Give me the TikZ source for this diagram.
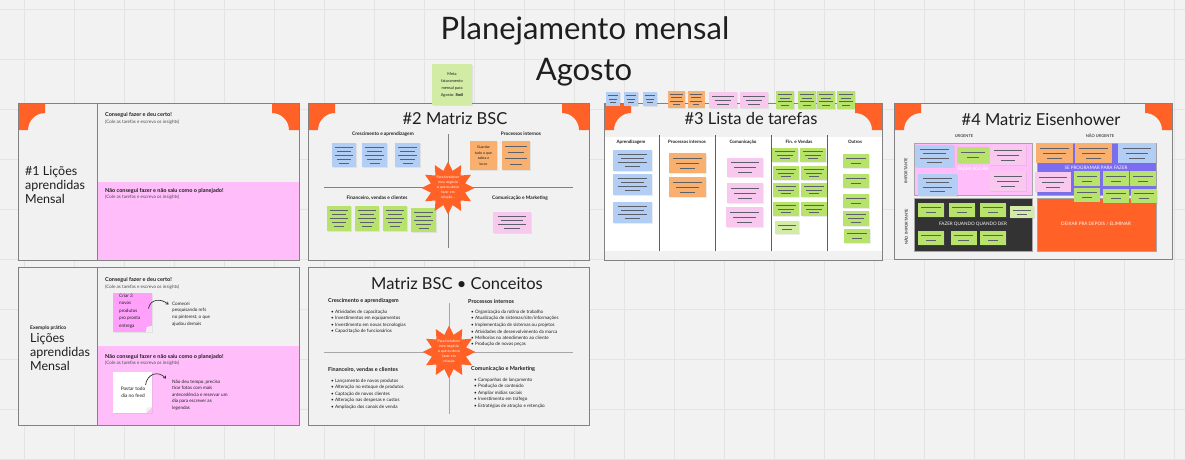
\documentclass[tikz,border=0pt]{standalone}
\usepackage{fontspec}
\setmainfont{Lato}
\usetikzlibrary{shapes.geometric,arrows.meta,shadows,calc}
\definecolor{bgc}{HTML}{F2F2F2}
\definecolor{gridc}{HTML}{E4E4E4}
\definecolor{framec}{HTML}{F1F1F1}
\definecolor{frameb}{HTML}{828282}
\definecolor{orng}{HTML}{FF6126}
\definecolor{pnk}{HTML}{FFBEFA}
\definecolor{sblue}{HTML}{B3CEF5}
\definecolor{sorange}{HTML}{F9AF6D}
\definecolor{spink}{HTML}{F9C8EE}
\definecolor{sgreen}{HTML}{B7E26C}
\definecolor{slgreen}{HTML}{D2ECA6}
\definecolor{purp}{HTML}{7B6CF0}
\definecolor{darkq}{HTML}{333333}
\definecolor{txt}{HTML}{1E1E1E}
\definecolor{lnc}{HTML}{5B606B}
\newcommand{\fs}[1]{\fontsize{#1}{#1}\selectfont}
\newcommand{\stk}[7]{%
  \node[stkbox, fill=#6, minimum width=#4pt, minimum height=#5pt] (#1) at (#2,#3) {};%
  \foreach \i in {1,...,#7}{%
    \pgfmathsetmacro{\ly}{#3-#5/2+#5*\i/(#7+1)}%
    \pgfmathsetmacro{\lw}{((\i==#7) ? 0.2 : ((mod(\i,2)==0) ? 0.3 : 0.38))*#4}%
    \draw[stkline] (#2-\lw,\ly) -- (#2+\lw,\ly);%
  }%
}
\newcommand{\corners}[3]{%
  \fill[orng] (#1,#3) -- (#1+27,#3) -- (#1+27,#3+10) arc[start angle=270, end angle=180, radius=17] -- (#1,#3+27) -- cycle;%
  \fill[orng] (#2,#3) -- (#2-27,#3) -- (#2-27,#3+10) arc[start angle=270, end angle=360, radius=17] -- (#2,#3+27) -- cycle;%
}
\tikzset{
  stkbox/.style={draw=none, inner sep=0, drop shadow={opacity=0.15, shadow xshift=0.5pt, shadow yshift=-0.6pt}},
  stkline/.style={draw=lnc, line width=0.75pt},
  frm/.style={draw=frameb, line width=0.8pt, fill=framec, inner sep=0, anchor=north west},
  frmline/.style={draw=frameb, line width=0.8pt},
  lbl/.style={inner sep=0, text=txt},
  head/.style={lbl, anchor=west, font=\bfseries\fs{5.5}},
  sub/.style={lbl, anchor=west, font=\fs{4.6}, text=txt!80},
  itm/.style={lbl, anchor=west, font=\fs{4.6}},
  ftitle/.style={lbl, font=\fs{16.5}},
  colh/.style={lbl, font=\bfseries\fs{4.5}},
  qtxt/.style={inner sep=0, text=white, font=\fs{4.6}},
  burst/.style={star, star points=12, star point ratio=1.5, minimum size=53pt, fill=orng, inner sep=0},
  bursttxt/.style={inner sep=0, text=white, align=center, font=\fontsize{3.5}{5}\selectfont},
  curvearrow/.style={draw=txt, line width=0.6pt, -{Straight Barb[length=2pt,width=3pt]}}
}
\begin{document}
\begin{tikzpicture}[x=1pt,y=-1pt]
\useasboundingbox (0,0) rectangle (1185,460);
\fill[bgc] (0,0) rectangle (1185,460);
\foreach \x in {24,74,...,1174} \draw[gridc, line width=0.9pt] (\x,0) -- (\x,460);
\foreach \y in {9,59,...,459} \draw[gridc, line width=0.9pt] (0,\y) -- (1185,\y);

% ---------- title ----------
\node[lbl, anchor=base, font=\fs{31}] (t1) at (585,40) {Planejamento mensal};
\node[lbl, anchor=base, font=\fs{31}] (t2) at (584,80) {Agosto};

% ---------- frame 1 ----------
\node[frm, minimum width=281pt, minimum height=157pt] (f1) at (18,103) {};
\fill[pnk] (97,182) rectangle (299,260);
\draw[frmline] (97,103) -- (97,260);
\corners{18}{299}{103}
\draw[frmline] (18,103) rectangle (299,260);
\node[lbl, anchor=west, align=left, font=\fontsize{12.5}{14}\selectfont] (f1t) at (25,185) {\#1 Lições\\aprendidas\\Mensal};
\node[head] (f1h1) at (105,115) {Consegui fazer e deu certo!};
\node[sub] (f1s1) at (105,122) {(Cole as tarefas e escreva os insights)};
\node[head] (f1h2) at (105,191) {Não consegui fazer e não saiu como o planejado!};
\node[sub] (f1s2) at (105,197.5) {(Cole as tarefas e escreva os insights)};

% ---------- frame 2 ----------
\node[frm, minimum width=281pt, minimum height=157pt] (f2) at (308,103) {};
\corners{308}{589}{103}
\draw[frmline] (308,103) rectangle (589,260);
\node[ftitle] (f2t) at (455,119) {\#2 Matriz BSC};
\draw[frmline] (448,134) -- (448,248);
\draw[frmline] (324,187) -- (573,187);
\node[colh, font=\bfseries\fs{4.8}] (q1) at (383,134) {Crescimento e aprendizagem};
\node[colh, font=\bfseries\fs{4.8}] (q2) at (521,134) {Processos internos};
\node[colh, font=\bfseries\fs{4.8}] (q3) at (377,198) {Financeiro, vendas e clientes};
\node[colh, font=\bfseries\fs{4.8}] (q4) at (520,198) {Comunicação e Marketing};
\stk{b21}{344}{155}{24}{24}{sblue}{5}
\stk{b22}{374.5}{155}{25}{24}{sblue}{5}
\stk{b23}{407.5}{155}{25}{24}{sblue}{5}
\node[stkbox, fill=sorange, minimum width=27pt, minimum height=29pt, align=center, font=\fontsize{3.6}{5.6}\selectfont, text=txt] (o21) at (483.5,155.5) {Guardar\\tudo o que\\sobra e\\lucro};
\stk{o22}{516}{155.5}{28}{29}{sorange}{4}
\stk{g21}{339}{218.5}{24}{25}{sgreen}{5}
\stk{g22}{367}{218.5}{24}{25}{sgreen}{5}
\stk{g23}{395}{218.5}{24}{25}{sgreen}{5}
\stk{g24}{423.5}{220}{25}{24}{sgreen}{5}
\stk{p21}{512}{222.5}{38}{21}{spink}{4}
\node[burst] (st2) at (448,188) {};
\node[bursttxt] (st2t) at (448,188) {Para fortalecer\\meu negócio\\o que eu devo\\fazer em\\relação...};
\node[stkbox, fill=slgreen, minimum width=40pt, minimum height=41pt, align=center, font=\fontsize{4}{7}\selectfont, text=txt] (meta) at (452,84.5) {Meta\\faturamento\\mensal para\\Agosto: \textbf{8mil}};

% ---------- frame 3 ----------
\node[frm, minimum width=278pt, minimum height=157pt] (f3) at (604,103) {};
\fill[white] (604,137) rectangle (882,251);
\corners{604}{882}{103}
\foreach \x in {659,715,771,827} \draw[draw=lnc, line width=1pt] (\x,135) -- (\x,251);
\draw[frmline] (604,103) rectangle (882,260);
\node[ftitle] (f3t) at (751,118) {\#3 Lista de tarefas};
\node[colh] (c1) at (631,142) {Aprendizagem};
\node[colh] (c2) at (687,142) {Processos internos};
\node[colh] (c3) at (743,142) {Comunicação};
\node[colh] (c4) at (799,142) {Fin. e Vendas};
\node[colh] (c5) at (855,142) {Outros};
\stk{u1}{613}{99}{14}{14}{sblue}{3}
\stk{u2}{631}{99}{14}{14}{sblue}{3}
\stk{u3}{650}{99}{14}{14}{sblue}{3}
\stk{u4}{676.5}{99.5}{17}{17}{sorange}{4}
\stk{u5}{696}{99.5}{17}{17}{sorange}{4}
\stk{u6}{723}{100}{28}{16}{spink}{3}
\stk{u7}{754}{100}{28}{16}{spink}{3}
\stk{u8}{785}{100}{18}{18}{sgreen}{4}
\stk{u9}{807}{100}{18}{18}{sgreen}{4}
\stk{u10}{826}{100}{18}{18}{sgreen}{4}
\stk{u11}{846}{100}{18}{18}{sgreen}{4}
\stk{l1}{632.5}{160.5}{39}{21}{sblue}{4}
\stk{l2}{632.5}{184.5}{39}{21}{sblue}{4}
\stk{l3}{632.5}{212.5}{39}{21}{sblue}{4}
\stk{l4}{687.5}{163}{37}{20}{sorange}{3}
\stk{l5}{687.5}{187}{37}{20}{sorange}{3}
\stk{l6}{745}{167.5}{36}{19}{spink}{3}
\stk{l7}{745}{193}{36}{20}{spink}{3}
\stk{l8}{744.5}{217}{37}{20}{spink}{3}
\stk{l9}{785}{155}{26}{14}{sgreen}{3}
\stk{l10}{813}{155}{26}{14}{sgreen}{3}
\stk{l11}{786}{173}{26}{14}{sgreen}{3}
\stk{l12}{814}{173}{26}{14}{sgreen}{3}
\stk{l13}{786}{190}{26}{14}{sgreen}{3}
\stk{l14}{814}{190}{26}{14}{sgreen}{3}
\stk{l15}{786}{209}{26}{14}{sgreen}{3}
\stk{l16}{814}{209}{26}{14}{sgreen}{3}
\stk{l17}{787}{227.5}{24}{13}{slgreen}{2}
\stk{l18}{856}{161}{26}{14}{sgreen}{2}
\stk{l19}{856}{181}{26}{14}{sgreen}{2}
\stk{l20}{856}{201}{26}{14}{sgreen}{2}
\stk{l21}{856}{218.5}{26}{15}{sgreen}{3}
\stk{l22}{857}{236}{26}{14}{sgreen}{2}

% ---------- frame 4 ----------
\node[frm, minimum width=278pt, minimum height=156pt] (f4) at (894,103) {};
\corners{894}{1172}{103}
\draw[frmline] (894,103) rectangle (1172,259);
\node[ftitle] (f4t) at (1041,119) {\#4 Matriz Eisenhower};
\node[colh, font=\bfseries\fs{4}, text=txt!80] (e1) at (964,136) {URGENTE};
\node[colh, font=\bfseries\fs{4}, text=txt!80] (e2) at (1100,136) {NÃO URGENTE};
\node[colh, font=\bfseries\fs{4}, text=txt!80, rotate=90] (e3) at (906,171) {IMPORTANTE};
\node[colh, font=\bfseries\fs{4}, text=txt!80, rotate=90] (e4) at (906,227) {NÃO IMPORTANTE};
\node[draw=gray!70, line width=0.5pt, fill=pnk, minimum width=118pt, minimum height=52pt, inner sep=0, anchor=north west] (qa) at (914,143) {};
\node[draw=gray!70, line width=0.5pt, fill=purp, minimum width=119pt, minimum height=52pt, inner sep=0, anchor=north west] (qb) at (1037,143) {};
\node[draw=gray!70, line width=0.5pt, fill=darkq, minimum width=118pt, minimum height=53pt, inner sep=0, anchor=north west] (qc) at (914,198) {};
\node[draw=gray!70, line width=0.5pt, fill=orng, minimum width=119pt, minimum height=53pt, inner sep=0, anchor=north west] (qd) at (1037,198) {};
\node[qtxt] (qat) at (973,169) {FAZER AGORA};
\node[qtxt] (qbt) at (1096,168) {SE PROGRAMAR PARA FAZER};
\node[qtxt] (qct) at (973,224) {FAZER QUANDO QUANDO DER};
\node[qtxt] (qdt) at (1096,224) {DEIXAR PRA DEPOIS / ELIMINAR};
\stk{m1}{934.5}{156}{39}{22}{sblue}{4}
\stk{m2}{973}{155}{32}{16}{sgreen}{2}
\stk{m3}{1008}{155}{36}{20}{spink}{3}
\stk{m4}{937.5}{185}{39}{22}{sblue}{4}
\stk{m5}{1008}{181}{36}{20}{spink}{3}
\stk{m6}{1054.5}{153}{37}{20}{sorange}{3}
\stk{m7}{1093.5}{153}{37}{20}{sorange}{3}
\stk{m8}{1137}{153}{38}{20}{sblue}{3}
\stk{m9}{1053}{182}{36}{20}{spink}{3}
\stk{m10}{1087}{178.5}{26}{15}{sgreen}{2}
\stk{m11}{1116}{178.5}{26}{15}{sgreen}{2}
\stk{m12}{1143}{178.5}{26}{15}{sgreen}{2}
\stk{m13}{1087}{195}{26}{14}{sgreen}{2}
\stk{m14}{1116}{196}{26}{14}{sgreen}{2}
\stk{m15}{1144}{196}{26}{14}{sgreen}{2}
\stk{m16}{931}{210}{26}{14}{sgreen}{2}
\stk{m17}{962}{210}{26}{14}{sgreen}{2}
\stk{m18}{993}{210}{26}{14}{sgreen}{2}
\stk{m19}{1022}{212}{24}{12}{slgreen}{2}
\stk{m20}{931}{238}{26}{14}{sgreen}{2}
\stk{m21}{963.5}{238}{26}{14}{sgreen}{2}
\stk{m22}{993}{238}{26}{14}{sgreen}{2}

% ---------- frame 5 ----------
\node[frm, minimum width=281pt, minimum height=158pt] (f5) at (18,267) {};
\fill[pnk] (97,346) rectangle (299,425);
\draw[frmline] (97,267) -- (97,425);
\draw[frmline] (18,267) rectangle (299,425);
\node[lbl, anchor=west, font=\bfseries\fs{5}] (f5e) at (30,328) {Exemplo prático};
\node[lbl, anchor=west, align=left, font=\fontsize{12.5}{13.6}\selectfont] (f5t) at (30,352) {Lições\\aprendidas\\Mensal};
\node[head] (f5h1) at (105,280) {Consegui fazer e deu certo!};
\node[sub] (f5s1) at (105,287) {(Cole as tarefas e escreva os insights)};
\node[head] (f5h2) at (105,357) {Não consegui fazer e não saiu como o planejado!};
\node[sub] (f5s2) at (105,363.5) {(Cole as tarefas e escreva os insights)};
\node[stkbox, fill=pnk!85!magenta, minimum width=39pt, minimum height=39pt] (n1) at (132.5,312.5) {};
\fill[framec] (146,332.1) -- (152.1,332.1) -- (152.1,326) -- cycle;
\fill[white!85!pnk] (146,332) -- (152,326) -- (146.8,326.8) -- cycle;
\node[lbl, anchor=west, align=left, font=\fontsize{4.6}{7.5}\selectfont] (n1t) at (119,311) {Criar 3\\novos\\produtos\\pro pronta\\entrega};
\node[lbl, anchor=west, align=left, font=\fontsize{4.6}{6.7}\selectfont] (n1r) at (172,314) {Comecei\\pesquisando refs\\no pinterest, o que\\ajudou demais};
\coordinate (a1s) at (148.5,308.5);
\coordinate (a1e) at (168.5,304.5);
\draw[curvearrow] (a1s) .. controls (150,299) and (161,298) .. (a1e);
\node[stkbox, fill=white, minimum width=39pt, minimum height=41pt] (n2) at (132.5,392.5) {};
\fill[pnk] (146,413.1) -- (152.1,413.1) -- (152.1,407) -- cycle;
\fill[gray!12] (146,413) -- (152,407) -- (146.8,407.8) -- cycle;
\node[lbl, align=center, font=\fontsize{4.8}{6.5}\selectfont] (n2t) at (133,392) {Postar todo\\dia no feed};
\node[lbl, anchor=west, align=left, font=\fontsize{4.6}{6.6}\selectfont] (n2r) at (172,395) {Não deu tempo, preciso\\tirar fotos com mais\\antecedência e reservar um\\dia para escrever as\\legendas};
\coordinate (a2s) at (145.5,385);
\coordinate (a2e) at (166,378.5);
\draw[curvearrow] (a2s) .. controls (147,374) and (158,370) .. (a2e);

% ---------- frame 6 ----------
\node[frm, minimum width=281pt, minimum height=158pt] (f6) at (308,267) {};
\node[ftitle] (f6t) at (457,284) {Matriz BSC • Conceitos};
\draw[draw=frameb!70, line width=0.7pt] (449,303) -- (449,414);
\draw[draw=frameb!70, line width=0.7pt] (324,352) -- (573,352);
\node[head] (k1) at (328,301) {Crescimento e aprendizagem};
\node[itm] (k1a) at (331,312) {•\ Atividades de capacitação};
\node[itm] (k1b) at (331,318.5) {•\ Investimentos em equipamentos};
\node[itm] (k1c) at (331,325) {•\ Investimento em novas tecnologias};
\node[itm] (k1d) at (331,331.5) {•\ Capacitação de funcionários};
\node[head] (k2) at (468,301) {Processos internos};
\node[itm] (k2a) at (471,312) {•\ Organização da rotina de trabalho};
\node[itm] (k2b) at (471,318.5) {•\ Atualização de sistemas/site/informações};
\node[itm] (k2c) at (471,325) {•\ Implementação de sistemas ou projetos};
\node[itm] (k2d) at (471,331.5) {•\ Atividades de desenvolvimento da marca};
\node[itm] (k2e) at (471,338) {•\ Melhorias no atendimento ao cliente};
\node[itm] (k2f) at (471,344.5) {•\ Produção de novas peças};
\node[head] (k3) at (328,370) {Financeiro, vendas e clientes};
\node[itm] (k3a) at (331,381) {•\ Lançamento de novos produtos};
\node[itm] (k3b) at (331,387.5) {•\ Alteração no estoque de produtos};
\node[itm] (k3c) at (331,394) {•\ Captação de novos clientes};
\node[itm] (k3d) at (331,400.5) {•\ Alteração nas despesas e custos};
\node[itm] (k3e) at (331,407) {•\ Ampliação dos canais de venda};
\node[head] (k4) at (471,369) {Comunicação e Marketing};
\node[itm] (k4a) at (474,380) {•\ Campanhas de lançamento};
\node[itm] (k4b) at (474,386.5) {•\ Produção de conteúdo};
\node[itm] (k4c) at (474,393) {•\ Ampliar mídias sociais};
\node[itm] (k4d) at (474,399.5) {•\ Investimento em tráfego};
\node[itm] (k4e) at (474,406) {•\ Estratégias de atração e retenção};
\node[burst] (st6) at (449,352) {};
\node[bursttxt] (st6t) at (449,352) {Para fortalecer\\meu negócio\\o que eu devo\\fazer em\\relação};
\end{tikzpicture}
\end{document}
